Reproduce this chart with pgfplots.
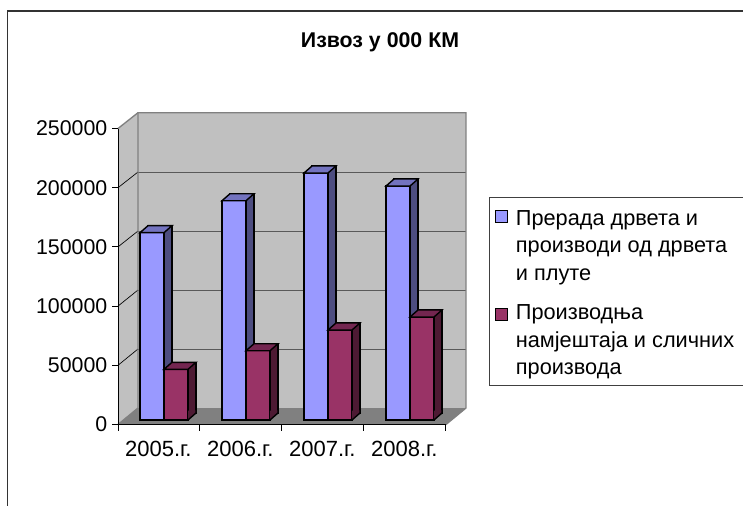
\documentclass[border=0pt]{standalone}
\usepackage{fontspec}
\setmainfont{Liberation Sans}
\usepackage{pgfplots}
\pgfplotsset{compat=1.18}

\definecolor{wall}{HTML}{C0C0C0}
\definecolor{floorc}{HTML}{808080}
\definecolor{blueF}{HTML}{9999FF}
\definecolor{blueS}{HTML}{4D4D80}
\definecolor{blueT}{HTML}{7373BF}
\definecolor{redF}{HTML}{993366}
\definecolor{redS}{HTML}{4D1A33}
\definecolor{redT}{HTML}{732650}

% 1 px of the reference = 0.75pt here
\pgfdeclareplotmark{top3d}{%
  \pgfpathmoveto{\pgfpoint{-9pt}{0pt}}%
  \pgfpathlineto{\pgfpoint{9pt}{0pt}}%
  \pgfpathlineto{\pgfpoint{15pt}{5.25pt}}%
  \pgfpathlineto{\pgfpoint{-3pt}{5.25pt}}%
  \pgfpathclose
  \pgfusepathqfillstroke
}
% slanted foot of the side face
\pgfdeclareplotmark{foot3d}{%
  \pgfpathmoveto{\pgfpoint{9pt}{0pt}}%
  \pgfpathlineto{\pgfpoint{15pt}{5.25pt}}%
  \pgfpathlineto{\pgfpoint{15pt}{7pt}}%
  \pgfpathlineto{\pgfpoint{9pt}{7pt}}%
  \pgfpathclose
  \pgfusepathqfill
  \pgfpathmoveto{\pgfpoint{9pt}{0pt}}%
  \pgfpathlineto{\pgfpoint{15pt}{5.25pt}}%
  \pgfpathlineto{\pgfpoint{15pt}{7pt}}%
  \pgfusepathqstroke
}
\pgfplotsset{
  bar3d/.style={forget plot, ybar, bar width=18pt, draw=black, line width=1.05pt},
  pt3d/.style={forget plot, only marks, mark options={draw=black,line width=1.05pt,fill=#1}},
}

\begin{document}
\begin{tikzpicture}
  \begin{scope}[x=0.75pt,y=-0.75pt]
    \path[use as bounding box] (0,0) rectangle (743,506);
    \fill[white] (0,0) rectangle (743,506);
    \draw[line width=1.4pt,black!80] (7.5,506) -- (7.5,10.7) -- (743,10.7);
    % walls and floor
    \fill[wall] (138,112.7) rectangle (466,408);
    \fill[wall] (118,128.5) -- (138,112.7) -- (138,408) -- (118,424.5) -- cycle;
    \fill[floorc] (118,424.5) -- (138,408) -- (466,408) -- (446,424.5) -- cycle;
    \foreach \yy in {349,290,231,172}{
      \draw[line width=0.7pt,black!65] (138,\yy) -- (466,\yy);
    }
    \foreach \yy/\zz in {365.3/349,306.1/290,246.9/231,187.7/172}{
      \draw[line width=0.5pt,black] (118,\yy) -- (138,\zz);
    }
    \draw[line width=1pt,floorc] (118,128.5) -- (138,112.7) -- (466,112.7) -- (466,408) -- (446,424.5);
    \draw[line width=1pt,floorc] (138,112.7) -- (138,408) -- (118,424.5);
    \node[font=\fontsize{16}{19}\selectfont\bfseries,anchor=base] at (380,47.3) {Извоз у 000 КМ};
  \end{scope}
  \clip (0,0) rectangle (557.25pt,-379.5pt);
  \begin{axis}[
    at={(88.5pt,-318.4pt)}, anchor=south west,
    scale only axis, width=246pt, height=222pt,
    xmin=0, xmax=4, ymin=0, ymax=250000,
    axis x line=bottom, axis y line=left,
    axis line style={-,black,line width=0.75pt},
    tick style={black,line width=0.75pt},
    tick align=outside,
    major tick length=4.5pt,
    xtick={0,1,2,3,4},
    x tick label as interval,
    xticklabels={2005.г.,2006.г.,2007.г.,2008.г.},
    ytick={0,50000,100000,150000,200000,250000},
    scaled y ticks=false,
    /pgf/number format/fixed,
    /pgf/number format/1000 sep={},
    /pgf/number format/assume math mode=true,
    yticklabel style={font=\fontsize{16}{19}\selectfont},
    xticklabel style={font=\fontsize{16.5}{19}\selectfont,yshift=-4.5pt,xshift=-0.5pt},
    clip=false,
    legend style={
      at={(axis description cs:1.1326,0.7686)}, anchor=north west,
      draw=black!75, line width=0.6pt, fill=white,
      font=\fontsize{16.3}{20.7}\selectfont,
      legend cell align=left,
      nodes={text depth=,text height=},
      inner xsep=4pt, inner ysep=2.5pt,
      column sep=4.5pt,
      row sep=10.8pt,
    },
  ]
    % first series: side copy, front, top
    \addplot[bar3d, bar shift=-5.25pt, fill=blueS, xshift=6pt, yshift=8.6pt]
      coordinates {(0.5,158200) (1.5,185200) (2.5,208600) (3.5,197600)};
    \addplot[bar3d, bar shift=-5.25pt, fill=blueF, yshift=3.4pt]
      coordinates {(0.5,158200) (1.5,185200) (2.5,208600) (3.5,197600)};
    \addplot[pt3d=blueT, mark=top3d, xshift=-5.25pt, yshift=3.4pt]
      coordinates {(0.5,158200) (1.5,185200) (2.5,208600) (3.5,197600)};
    % second series
    \addplot[bar3d, bar shift=12.75pt, fill=redS, xshift=6pt, yshift=8.6pt]
      coordinates {(0.5,42800) (1.5,58500) (2.5,76000) (3.5,87000)};
    \addplot[pt3d=redS, mark=foot3d, xshift=12.75pt, yshift=3.4pt]
      coordinates {(0.5,0) (1.5,0) (2.5,0) (3.5,0)};
    \addplot[bar3d, bar shift=12.75pt, fill=redF, yshift=3.4pt]
      coordinates {(0.5,42800) (1.5,58500) (2.5,76000) (3.5,87000)};
    \addplot[pt3d=redT, mark=top3d, xshift=12.75pt, yshift=3.4pt]
      coordinates {(0.5,42800) (1.5,58500) (2.5,76000) (3.5,87000)};

    \addlegendimage{legend image code/.code={\path[draw=none,fill=none] (0pt,0pt) rectangle (9pt,9pt);\draw[overlay,draw=black,line width=0.8pt,fill=blueF] (0pt,16pt) rectangle (9pt,25pt);}}
    \addlegendentry{\parbox[t]{220pt}{\rule{0pt}{16.2pt}Прерада дрвета и\\ производи од дрвета\\ и плуте}}
    \addlegendimage{legend image code/.code={\path[draw=none,fill=none] (0pt,0pt) rectangle (9pt,9pt);\draw[overlay,draw=black,line width=0.8pt,fill=redF] (0pt,16pt) rectangle (9pt,25pt);}}
    \addlegendentry{\parbox[t]{220pt}{Производња\\ намјештаја и сличних\\ производа}}
  \end{axis}
\end{tikzpicture}
\end{document}
